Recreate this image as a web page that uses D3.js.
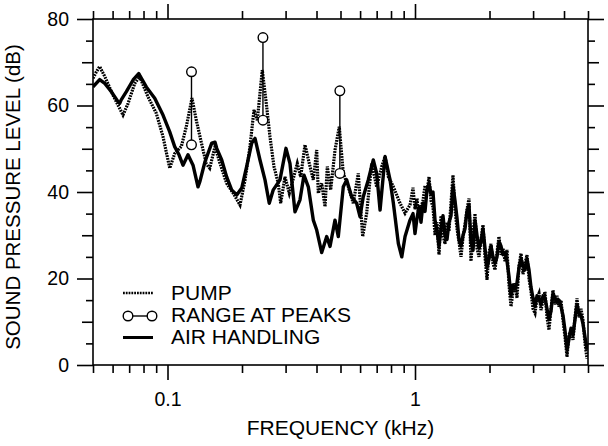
<!DOCTYPE html>
<html>
<head>
<meta charset="utf-8">
<script src="https://cdn.jsdelivr.net/npm/d3@7"></script>
<style>
  body { margin: 0; background: #fff; }
  svg { display: block; font-family: "Liberation Sans", Arial, sans-serif; }
</style>
</head>
<body>
<script>
// page and plot box (note: "top" is taken by window.top, so prefix them)
var width = 608, height = 446;
var p_left = 93, p_right = 588, p_top = 19, p_bottom = 365;

// air handling (solid) below 1 kHz - frequency in kHz, level in dB
var air_freq = [0.0500, 0.0532, 0.0558, 0.0593, 0.0631, 0.0641, 0.0650, 0.0682, 0.0726, 0.0765,
	0.0821, 0.0888, 0.0959, 0.1021, 0.1069, 0.1113, 0.1155, 0.1210, 0.1268, 0.1328,
	0.1353, 0.1417, 0.1509, 0.1556, 0.1581, 0.1656, 0.1734, 0.1816, 0.1904, 0.1995,
	0.2089, 0.2189, 0.2257, 0.2364, 0.2477, 0.2577, 0.2675, 0.2847, 0.3011, 0.3125,
	0.3274, 0.3430, 0.3560, 0.3706, 0.3882, 0.4007, 0.4198, 0.4398, 0.4535, 0.4751,
	0.4899, 0.5131, 0.5297, 0.5548, 0.5811, 0.5994, 0.6180, 0.6474, 0.6783, 0.7001,
	0.7225, 0.7568, 0.7929, 0.8177, 0.8565, 0.8841, 0.9116, 0.9546];
var air_db = [64.3, 66.0, 65.1, 63.2, 60.9, 60.5, 61.3, 63.2, 65.9, 67.4,
	64.3, 61.7, 57.8, 53.9, 50.5, 48.6, 46.2, 48.6, 46.2, 41.2,
	42.5, 47.0, 51.3, 51.5, 50.1, 47.4, 43.5, 40.5, 39.3, 40.9,
	45.9, 51.3, 52.4, 47.4, 42.8, 37.4, 40.5, 42.8, 50.1, 46.6,
	35.4, 38.2, 43.9, 41.2, 33.5, 31.2, 26.0, 29.7, 27.4, 33.5,
	29.7, 41.2, 42.8, 38.9, 37.4, 34.3, 38.9, 42.8, 47.4, 44.3,
	35.8, 48.2, 42.8, 37.4, 28.1, 25.0, 29.7, 33.5];

// pump (dotted) below 1 kHz
var pump_freq = [0.0500, 0.0516, 0.0532, 0.0558, 0.0602, 0.0661, 0.0693, 0.0737, 0.0772, 0.0834,
	0.0901, 0.0959, 0.1021, 0.1069, 0.1137, 0.1191, 0.1256, 0.1307, 0.1369, 0.1435,
	0.1481, 0.1556, 0.1630, 0.1734, 0.1844, 0.1963, 0.2057, 0.2154, 0.2236, 0.2306,
	0.2415, 0.2516, 0.2594, 0.2692, 0.2802, 0.2866, 0.2983, 0.3105, 0.3222, 0.3345,
	0.3452, 0.3593, 0.3740, 0.3882, 0.4007, 0.4067, 0.4198, 0.4329, 0.4423, 0.4564,
	0.4751, 0.4944, 0.5131, 0.5376, 0.5631, 0.5899, 0.6146, 0.6378, 0.6683, 0.7001,
	0.7340, 0.7568, 0.7804, 0.8177, 0.8702, 0.9116, 0.9546];
var pump_db = [66.3, 67.8, 69.0, 66.7, 62.4, 57.8, 60.5, 65.1, 66.7, 62.0,
	58.2, 52.8, 45.5, 48.9, 50.5, 55.1, 61.7, 56.6, 51.5, 46.5,
	45.5, 50.5, 46.6, 42.0, 39.7, 37.0, 42.8, 50.5, 59.0, 56.6,
	68.2, 59.7, 52.8, 45.9, 42.0, 37.4, 43.5, 39.7, 43.1, 46.6,
	43.5, 50.9, 46.6, 42.8, 49.7, 39.7, 42.0, 36.6, 45.9, 40.5,
	49.7, 55.1, 44.3, 41.2, 37.4, 44.3, 29.7, 35.1, 46.6, 41.2,
	45.9, 48.2, 43.5, 41.2, 37.4, 35.1, 37.0];

var hf_freq = [0.9816, 1.000, 1.0188, 1.0379, 1.0574, 1.0773, 1.0975, 1.1181, 1.1391, 1.1605,
	1.1823, 1.2045, 1.2271, 1.2501, 1.2736, 1.2975, 1.3219, 1.3467, 1.3720, 1.3978,
	1.4240, 1.4508, 1.4780, 1.5058, 1.5341, 1.5629, 1.5922, 1.6221, 1.6526, 1.6836,
	1.7153, 1.7475, 1.7803, 1.8138, 1.8478, 1.8825, 1.9179, 1.9539, 1.9906, 2.0280,
	2.0661, 2.1049, 2.1444, 2.1847, 2.2257, 2.2675, 2.3101, 2.3535, 2.3977, 2.4427,
	2.4886, 2.5353, 2.5829, 2.6314, 2.6808, 2.7312, 2.7825, 2.8347, 2.8880, 2.9422,
	2.9974, 3.0537, 3.1111, 3.1695, 3.2290, 3.2897, 3.3514, 3.4144, 3.4785, 3.5438,
	3.6104, 3.6782, 3.7472, 3.8176, 3.8893, 3.9623, 4.0367, 4.1125, 4.1898, 4.2684,
	4.3486, 4.4303, 4.5135, 4.5982, 4.6846, 4.7725, 4.8622, 4.9535];
var air_hf_db = [35.0, 30.4, 34.0, 36.6, 33.0, 37.4, 35.5, 40.5, 42.0, 39.5,
	40.0, 33.5, 31.0, 27.5, 31.5, 34.5, 30.0, 29.0, 33.0, 34.5,
	41.5, 38.0, 34.0, 29.0, 27.5, 30.0, 31.5, 35.5, 37.0, 28.5,
	26.5, 33.5, 30.0, 27.0, 28.5, 31.5, 27.0, 22.5, 24.5, 27.5,
	25.0, 23.5, 25.0, 28.5, 27.5, 25.5, 26.0, 24.0, 20.5, 16.0,
	18.5, 17.5, 19.0, 22.5, 24.5, 23.0, 22.0, 24.5, 22.0, 18.0,
	15.5, 13.5, 16.0, 15.5, 14.0, 16.0, 15.5, 13.0, 10.5, 12.5,
	16.5, 15.5, 14.5, 15.0, 13.5, 11.5, 8.0, 3.5, 6.0, 8.5,
	7.0, 10.5, 14.0, 12.0, 11.5, 9.5, 6.5, 3.5];
var pump_hf_db = [41.0, 36.0, 38.5, 34.0, 36.5, 38.0, 41.5, 40.0, 43.5, 38.0,
	36.5, 30.0, 33.0, 25.5, 34.5, 30.0, 28.0, 33.0, 31.0, 37.5,
	43.9, 36.0, 31.5, 28.5, 25.0, 29.5, 32.5, 36.0, 38.5, 24.0,
	30.0, 35.0, 27.0, 25.0, 29.0, 32.4, 25.0, 19.7, 26.0, 28.0,
	23.5, 22.0, 26.0, 29.7, 25.5, 27.0, 24.0, 26.6, 18.5, 13.5,
	17.0, 18.9, 15.5, 23.0, 25.8, 21.0, 23.5, 25.4, 20.0, 17.0,
	13.0, 12.0, 15.5, 16.6, 12.7, 15.0, 16.9, 11.0, 8.1, 13.0,
	17.3, 14.0, 16.0, 13.5, 15.0, 10.4, 6.5, 1.9, 7.0, 8.1,
	5.8, 11.0, 15.4, 11.0, 13.0, 10.4, 5.0, 1.5];

// range at peaks
var range_freq = [0.125, 0.243, 0.497];
var range_max = [67.8, 75.7, 63.4];
var range_min = [50.9, 56.6, 44.3];

// ticks
var x_major = [0.1, 1];
var x_minor = [0.05, 0.06, 0.07, 0.08, 0.09, 0.2, 0.3, 0.4, 0.5, 0.6, 0.7, 0.8, 0.9, 2, 3, 4, 5];
var y_major = [0, 20, 40, 60, 80];
var y_mid = [10, 30, 50, 70];
var y_minor = [5, 15, 25, 35, 45, 55, 65, 75];

var x_scale = d3.scaleLog().domain([0.05, 5]).range([p_left, p_right]);
var y_scale = d3.scaleLinear().domain([0, 80]).range([p_bottom, p_top]);

var svg = d3.select('body').append('svg').attr('width', width).attr('height', height);

function draw_axes() {
	var g = svg.append('g').attr('id', 'axes');
	// x ticks, bottom and top
	var xb = [[x_minor, 8, false], [x_major, 15, true]];
	xb.forEach(function (t) {
		var ax = g.append('g').attr('transform', 'translate(0,' + p_bottom + ')')
			.call(d3.axisBottom(x_scale).tickValues(t[0]).tickSize(t[1]).tickSizeOuter(0)
				.tickFormat(t[2] ? d3.format('') : ''));
		ax.selectAll('text').attr('font-size', '19.5px').attr('y', 0).attr('dy', '2.1em');
		g.append('g').attr('transform', 'translate(0,' + p_top + ')')
			.call(d3.axisTop(x_scale).tickValues(t[0]).tickSize(t[1]).tickSizeOuter(0).tickFormat(''));
	});
	// y ticks, left and right
	var yb = [[y_minor, 7, false], [y_mid, 11, false], [y_major, 16, true]];
	yb.forEach(function (t) {
		var ax = g.append('g').attr('transform', 'translate(' + p_left + ',0)')
			.call(d3.axisLeft(y_scale).tickValues(t[0]).tickSize(t[1]).tickSizeOuter(0)
				.tickFormat(t[2] ? d3.format('') : ''));
		ax.selectAll('text').attr('font-size', '19.5px').attr('x', -24);
		g.append('g').attr('transform', 'translate(' + p_right + ',0)')
			.call(d3.axisRight(y_scale).tickValues(t[0]).tickSize(t[1]).tickSizeOuter(0).tickFormat(''));
	});
	g.selectAll('.domain').remove();
	g.selectAll('line').attr('stroke', '#000').attr('stroke-width', 1.6);
	g.selectAll('text').attr('fill', '#000').attr('font-family', '"Liberation Sans", Arial, sans-serif');

	svg.append('rect').attr('x', p_left).attr('y', p_top)
		.attr('width', p_right - p_left).attr('height', p_bottom - p_top)
		.attr('fill', 'none').attr('stroke', '#000').attr('stroke-width', 1.6);

	svg.append('text').attr('x', (p_left + p_right) / 2).attr('y', 435)
		.attr('text-anchor', 'middle').attr('font-size', '21px')
		.text('FREQUENCY (kHz)');
	svg.append('text').attr('transform', 'translate(20,' + 197 + ') rotate(-90)')
		.attr('text-anchor', 'middle').attr('font-size', '20.5px')
		.text('SOUND PRESSURE LEVEL (dB)');
}

function plot_data() {
	svg.append('clipPath').attr('id', 'clip').append('rect')
		.attr('x', p_left).attr('y', p_top).attr('width', p_right - p_left).attr('height', p_bottom - p_top);
	var plot = svg.append('g').attr('clip-path', 'url(#clip)');

	var line = d3.line().x(d => x_scale(d[0])).y(d => y_scale(d[1]));
	var air = air_freq.map((f, i) => [f, air_db[i]])
		.concat(hf_freq.map((f, i) => [f, air_hf_db[i]]));
	var pump = pump_freq.map((f, i) => [f, pump_db[i]])
		.concat(hf_freq.map((f, i) => [f, pump_hf_db[i]]));

	plot.append('path').datum(air).attr('d', line)
		.attr('fill', 'none').attr('stroke', '#000').attr('stroke-width', 3.4)
		.attr('stroke-linejoin', 'round');
	plot.append('path').datum(pump).attr('d', line)
		.attr('fill', 'none').attr('stroke', '#000').attr('stroke-width', 3.2)
		.attr('stroke-dasharray', '1.8,1');

	// range at peaks
	var rg = range_freq.map((f, i) => ({ f: f, lo: range_min[i], hi: range_max[i] }));
	var r = svg.append('g').selectAll('g').data(rg).enter().append('g');
	r.append('line').attr('x1', d => x_scale(d.f)).attr('x2', d => x_scale(d.f))
		.attr('y1', d => y_scale(d.lo)).attr('y2', d => y_scale(d.hi))
		.attr('stroke', '#000').attr('stroke-width', 1.4);
	r.append('circle').attr('cx', d => x_scale(d.f)).attr('cy', d => y_scale(d.hi)).attr('r', 4.8)
		.attr('fill', '#fff').attr('stroke', '#000').attr('stroke-width', 1.4);
	r.append('circle').attr('cx', d => x_scale(d.f)).attr('cy', d => y_scale(d.lo)).attr('r', 4.8)
		.attr('fill', '#fff').attr('stroke', '#000').attr('stroke-width', 1.4);
}

function draw_legend() {
	var lg = svg.append('g').attr('id', 'legend');
	lg.append('line').attr('x1', 123).attr('x2', 153).attr('y1', 293).attr('y2', 293)
		.attr('stroke', '#000').attr('stroke-width', 2.6).attr('stroke-dasharray', '1.8,1');
	lg.append('line').attr('x1', 128).attr('x2', 152).attr('y1', 316).attr('y2', 316)
		.attr('stroke', '#000').attr('stroke-width', 1.4);
	[128, 152].forEach(function (cx) {
		lg.append('circle').attr('cx', cx).attr('cy', 316).attr('r', 4.8)
			.attr('fill', '#fff').attr('stroke', '#000').attr('stroke-width', 1.4);
	});
	lg.append('line').attr('x1', 123).attr('x2', 153).attr('y1', 337.5).attr('y2', 337.5)
		.attr('stroke', '#000').attr('stroke-width', 3);
	var labels = ['PUMP', 'RANGE AT PEAKS', 'AIR HANDLING'];
	lg.selectAll('text.lab').data(labels).enter().append('text')
		.attr('x', 171).attr('y', (d, i) => 299.5 + i * 22.4)
		.attr('font-size', '21px').text(d => d);
}

draw_axes();
plot_data();
draw_legend();
</script>
</body>
</html>
